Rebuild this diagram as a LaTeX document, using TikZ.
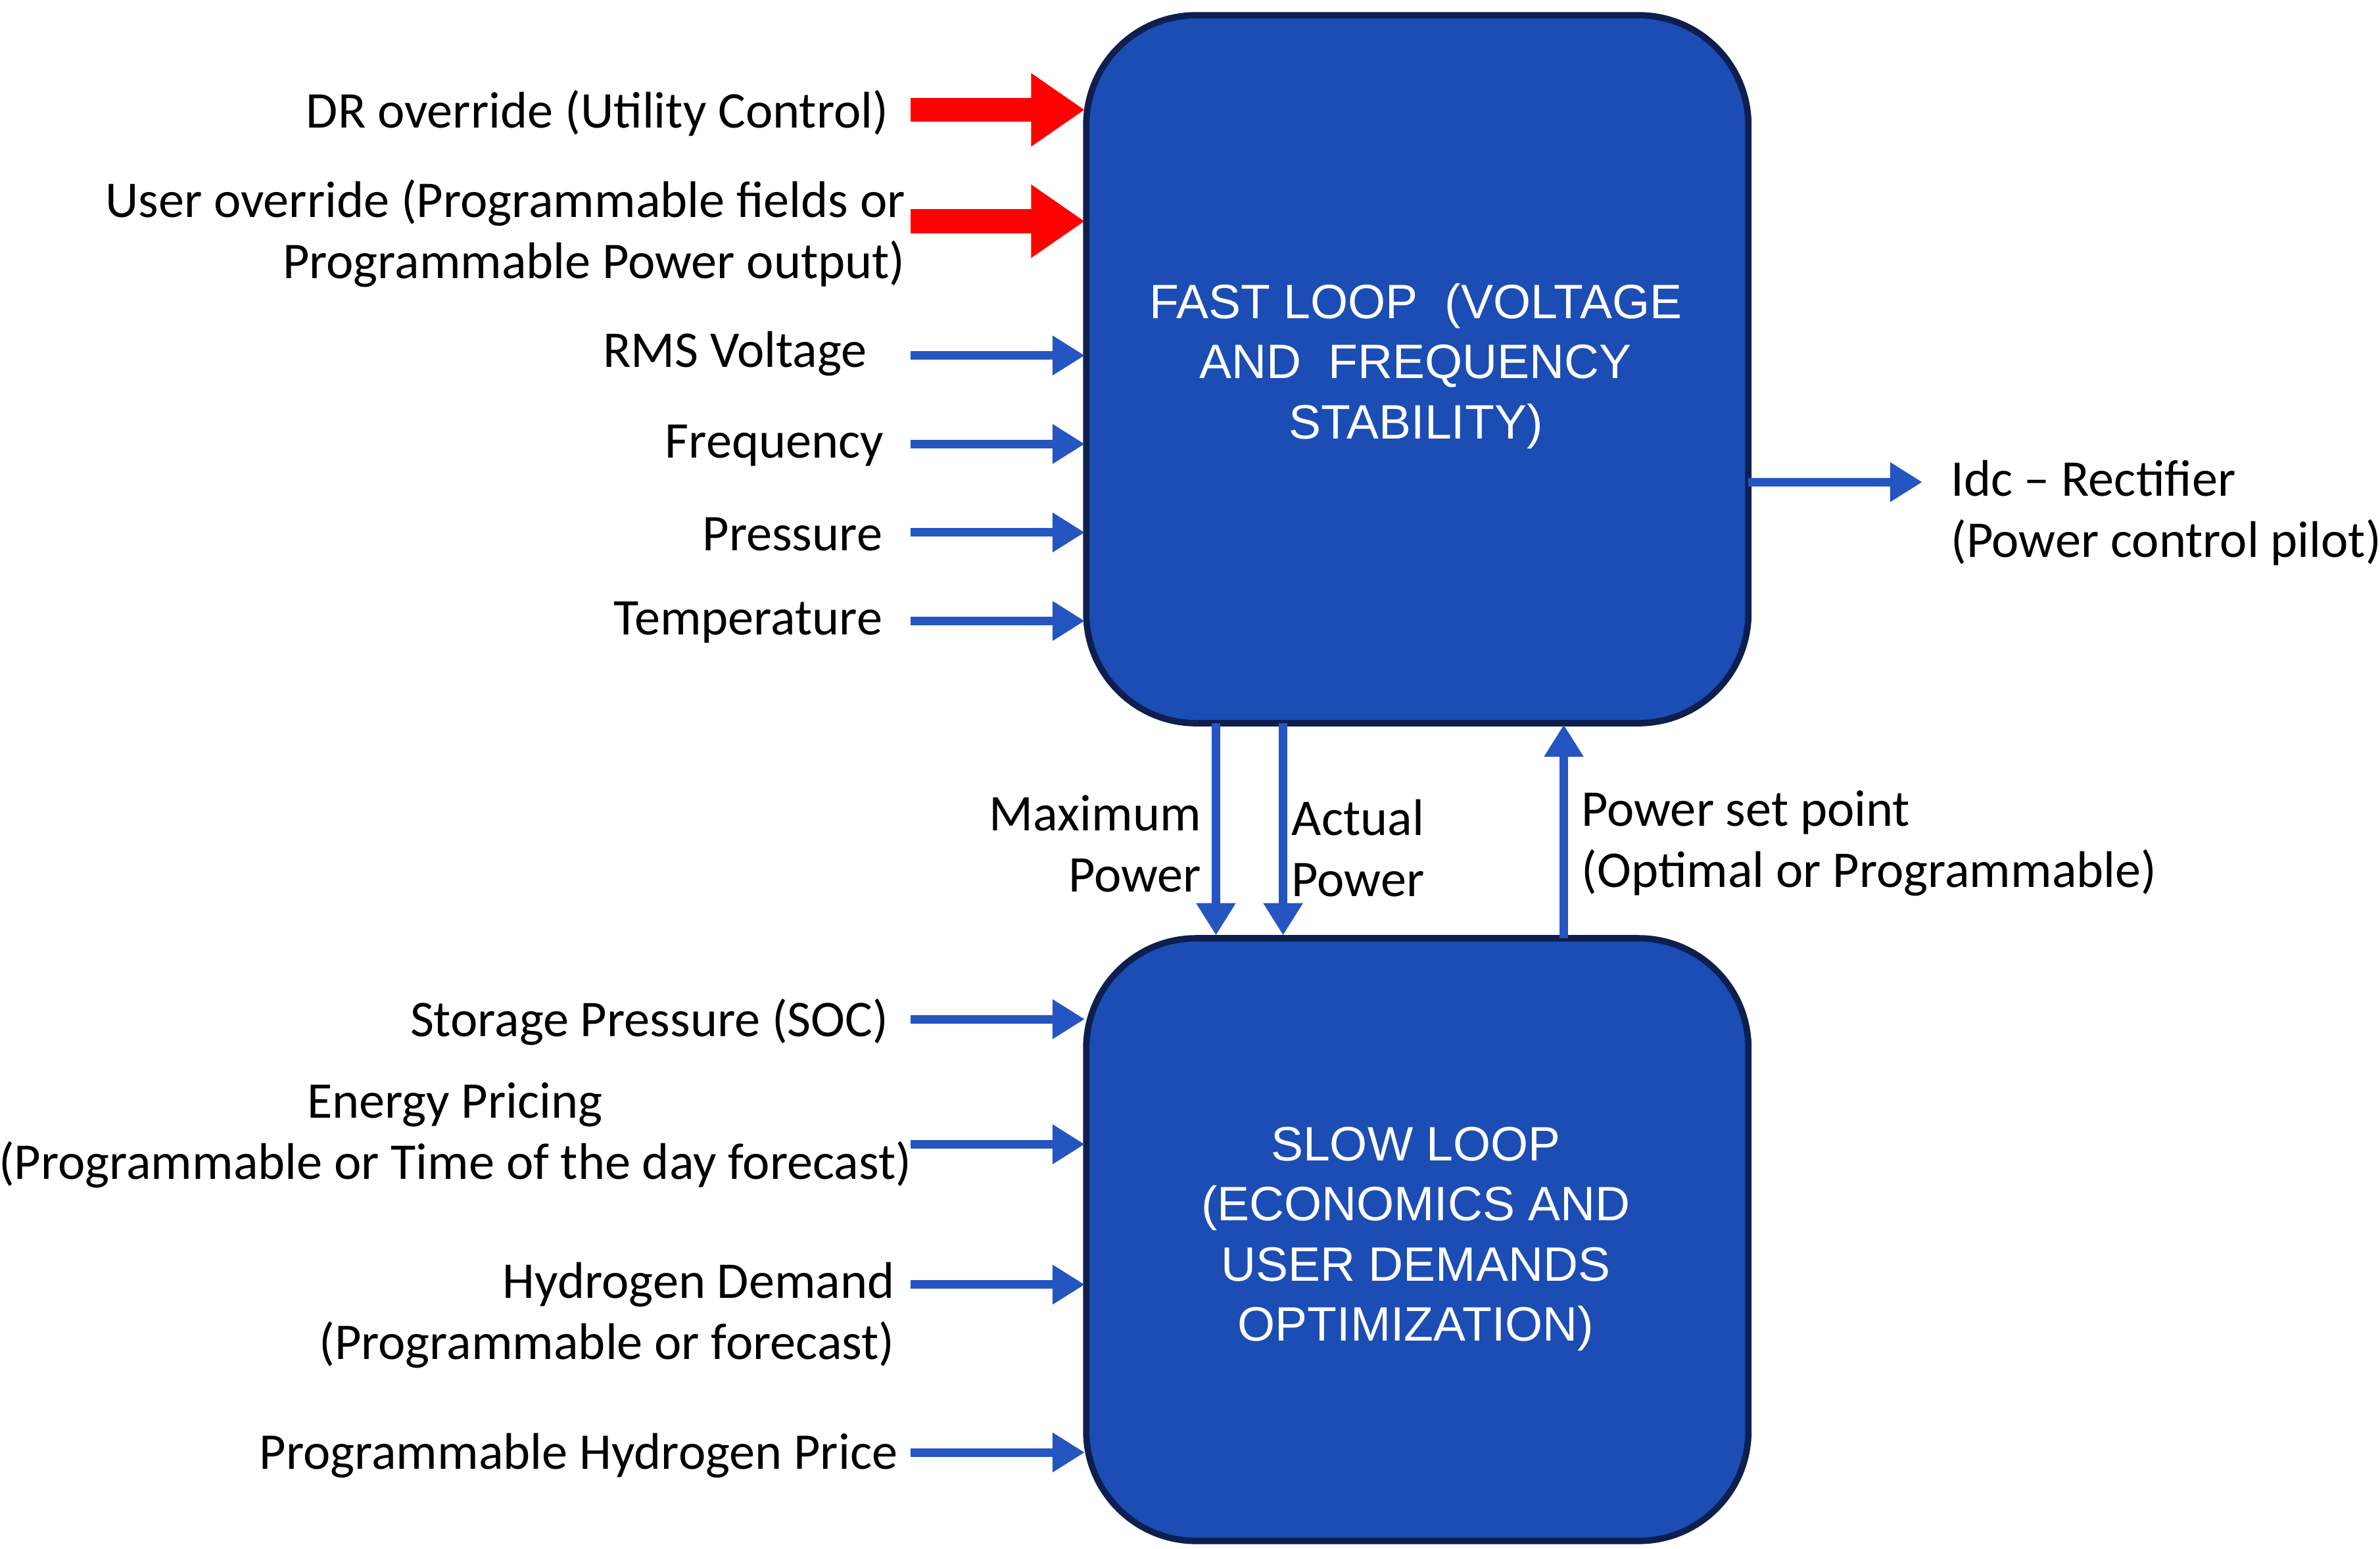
\documentclass[tikz,border=0pt]{standalone}
\usepackage{fontspec}
\setmainfont{Carlito}
\newfontfamily\boxfont{Liberation Sans}
\usetikzlibrary{arrows.meta}
\definecolor{boxblue}{HTML}{1C4DB4}
\definecolor{boxedge}{HTML}{0E1F4F}
\definecolor{arrblue}{HTML}{2455C0}
\tikzset{
 blk/.style={draw=boxedge,line width=1.2pt,fill=boxblue,rounded corners=0.72cm},
 btxt/.style={text=white,font=\boxfont\fontsize{9}{11.2}\selectfont,align=center},
 lbl/.style={font=\fontsize{9.6}{11.4}\selectfont,inner sep=0pt},
 barr/.style={draw=arrblue,line width=1.6pt,-{Triangle[length=6pt,width=7pt]}},
 rarr/.style={draw=red,line width=4.5pt,-{Triangle[length=10pt,width=13pt]}},
}
\begin{document}
\begin{tikzpicture}[x=0.01cm,y=-0.01cm]
\useasboundingbox (0,0) rectangle (1560,1015);
\draw[blk] (712,10) rectangle (1146,474);
\draw[blk] (712,615) rectangle (1146,1010);
\node (fast) [btxt] at (928,240) {FAST LOOP\ \ (VOLTAGE\\AND\ \ FREQUENCY\\STABILITY)};
\node (slow) [btxt] at (928,812) {SLOW LOOP\\(ECONOMICS AND\\USER DEMANDS\\OPTIMIZATION)};
\coordinate (fw) at (712,0);
% left inputs fast
\foreach \y/\n/\st in {72/a/rarr,145/b/rarr,233/c/barr,291/d/barr,349/e/barr,407/f/barr,668/g/barr,750/h/barr,842/i/barr,952/j/barr}{
 \coordinate (s\n) at (597,\y);
 \coordinate (t\n) at (711,\y);
 \draw[\st] (s\n) -- (t\n);
}
\node[lbl,anchor=east] (la) at (583,74) {DR override\ (Utility Control)};
\node[lbl,anchor=east,align=right] (lb) at (594,153) {User override (Programmable fields or\\Programmable Power output)};
\node[lbl,anchor=east] (lc) at (569,232) {RMS Voltage};
\node[lbl,anchor=east] (ld) at (580,292) {Frequency};
\node[lbl,anchor=east] (le) at (579,350) {Pressure};
\node[lbl,anchor=east] (lf) at (579,408) {Temperature};
\node[lbl,anchor=east] (lg) at (583,670) {Storage Pressure (SOC)};
\node[lbl,anchor=east,align=center] (lh) at (598,744) {Energy Pricing\\(Programmable or Time of the day forecast)};
\node[lbl,anchor=east,align=right] (li) at (587,862) {Hydrogen Demand\\(Programmable or forecast)};
\node[lbl,anchor=east] (lj) at (589,954) {Programmable Hydrogen Price};
% output
\coordinate (o1) at (1146,316); \coordinate (o2) at (1260,316);
\draw[barr] (o1) -- (o2);
\node[lbl,anchor=west,align=left] (lo) at (1278,336) {Idc -- Rectifier\\(Power control pilot)};
% vertical
\coordinate (m1) at (797,474); \coordinate (m2) at (797,613);
\coordinate (a1) at (841,474); \coordinate (a2) at (841,613);
\coordinate (p1) at (1025,615); \coordinate (p2) at (1025,475);
\draw[barr] (m1) -- (m2);
\draw[barr] (a1) -- (a2);
\draw[barr] (p1) -- (p2);
\node[lbl,anchor=east,align=right] (lm) at (788,553) {Maximum\\Power};
\node[lbl,anchor=west,align=left] (lac) at (846,556) {Actual\\Power};
\node[lbl,anchor=west,align=left] (lp) at (1036,553) {Power set point\\(Optimal or Programmable)};
\end{tikzpicture}
\end{document}
